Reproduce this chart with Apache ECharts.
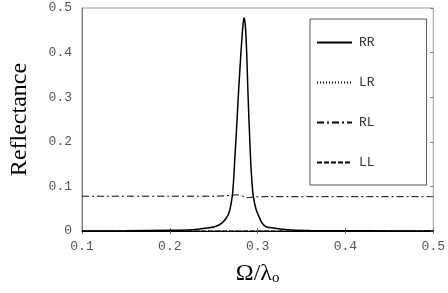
<!DOCTYPE html>
<html>
<head>
<meta charset="utf-8">
<script src="https://cdn.jsdelivr.net/npm/echarts@6/dist/echarts.min.js"></script>
<style>
  html, body { margin: 0; padding: 0; background: #fff; }
  #chart { width: 448px; height: 293px; }
</style>
</head>
<body>
<div id="chart"></div>
<script>
// RR reflectance peak
var rrX = [0.10, 0.15, 0.20, 0.22, 0.232, 0.24, 0.251, 0.258, 0.264, 0.268, 0.2711, 0.2725, 0.2738, 0.276, 0.2785, 0.281, 0.283, 0.2844,
           0.286, 0.2875, 0.2888, 0.2905, 0.2921, 0.2935, 0.295, 0.298, 0.302, 0.305, 0.3095, 0.32, 0.339, 0.36, 0.40, 0.45, 0.50];
var rrY = [0, 0.0005, 0.0015, 0.0025, 0.004, 0.006, 0.0096, 0.016, 0.028, 0.045, 0.078, 0.11, 0.155, 0.23, 0.32, 0.40, 0.455, 0.478,
           0.46, 0.40, 0.32, 0.23, 0.155, 0.11, 0.078, 0.05, 0.03, 0.018, 0.0096, 0.006, 0.002, 0.001, 0.0005, 0.0002, 0];

// RL: flat with a small wiggle near the peak
var rlX = [0.10, 0.20, 0.25, 0.265, 0.272, 0.277, 0.282, 0.2877, 0.292, 0.298, 0.31, 0.40, 0.50];
var rlY = [0.078, 0.078, 0.078, 0.079, 0.0805, 0.081, 0.079, 0.0745, 0.0755, 0.0765, 0.077, 0.077, 0.077];

// LR, LL: zero everywhere
var zeroX = [0.10, 0.50];
var lrY = [0, 0];
var llY = [0, 0];

function zip(xs, ys) {
    var out = [];
    for (var i = 0; i < xs.length; i++) out.push([xs[i], ys[i]]);
    return out;
}

var mono = '"Liberation Mono", "DejaVu Sans Mono", monospace';
var serif = '"Liberation Serif", "DejaVu Serif", serif';

var chart = echarts.init(document.getElementById('chart'));

var tickStyle = { show: true, inside: true, length: 3, lineStyle: { color: '#777' } };

var option = {
    animation: false,
    backgroundColor: '#fff',
    grid: { left: 73, right: 12, top: 8, bottom: 62, show: true, borderColor: '#999', borderWidth: 1 },
    legend: {
        orient: 'vertical',
        left: 310,
        top: 19,
        padding: [17, 52, 16, 6],
        itemGap: 27,
        itemWidth: 35,
        itemHeight: 14,
        borderColor: '#555',
        borderWidth: 1,
        itemStyle: { opacity: 0 },
        textStyle: { fontFamily: mono, fontSize: 13, color: '#333', padding: [0, 0, 0, 2] },
        data: ['RR', 'LR', 'RL', 'LL']
    },
    xAxis: [{
        type: 'value',
        min: 0.1, max: 0.5, interval: 0.1,
        axisLine: { show: true, lineStyle: { color: '#000', width: 1 } },
        axisTick: tickStyle,
        splitLine: { show: false },
        axisLabel: {
            fontFamily: mono, fontSize: 13, color: '#555', margin: 9,
            formatter: function (v) { return v.toFixed(1); }
        },
        name: '{a|Ω/λ}{s|o}',
        nameLocation: 'middle',
        nameGap: 30,
        nameTextStyle: {
            rich: {
                a: { fontFamily: serif, fontSize: 24, color: '#000' },
                s: { fontFamily: serif, fontSize: 15, color: '#000', verticalAlign: 'bottom', padding: [10, 0, 0, 0] }
            }
        }
    }, {
        type: 'value', position: 'top',
        min: 0.1, max: 0.5, interval: 0.1,
        axisLine: { show: false },
        axisTick: tickStyle,
        axisLabel: { show: false },
        splitLine: { show: false }
    }],
    yAxis: [{
        type: 'value',
        min: 0, max: 0.5, interval: 0.1,
        axisLine: { show: true, lineStyle: { color: '#777', width: 1 } },
        axisTick: { show: false },
        splitLine: { show: false },
        axisLabel: {
            fontFamily: mono, fontSize: 13, color: '#555', margin: 10,
            formatter: function (v) { return v === 0 ? '0' : v.toFixed(1); }
        },
        name: 'Reflectance',
        nameLocation: 'middle',
        nameGap: 50,
        nameTextStyle: { fontFamily: serif, fontSize: 24, color: '#000' }
    }, {
        type: 'value', position: 'right',
        min: 0, max: 0.5, interval: 0.1,
        axisLine: { show: false },
        axisTick: tickStyle,
        axisLabel: { show: false },
        splitLine: { show: false }
    }],
    series: [
        {
            name: 'RR', type: 'line', showSymbol: false, symbol: 'none', smooth: 0.3,
            data: zip(rrX, rrY),
            lineStyle: { color: '#000', width: 1.5, type: 'solid' },
            itemStyle: { color: '#000' }, z: 5
        },
        {
            name: 'LR', type: 'line', showSymbol: false, symbol: 'none',
            data: zip(zeroX, lrY),
            lineStyle: { color: '#000', width: 1, type: [1, 2] },
            itemStyle: { color: '#000' }
        },
        {
            name: 'RL', type: 'line', showSymbol: false, symbol: 'none', smooth: 0.3,
            data: zip(rlX, rlY),
            lineStyle: { color: '#000', width: 1, type: [7, 3, 2, 3] },
            itemStyle: { color: '#000' }
        },
        {
            name: 'LL', type: 'line', showSymbol: false, symbol: 'none',
            data: zip(zeroX, llY),
            lineStyle: { color: '#000', width: 1, type: [5, 2] },
            itemStyle: { color: '#000' }
        }
    ]
};

chart.setOption(option);
</script>
</body>
</html>
